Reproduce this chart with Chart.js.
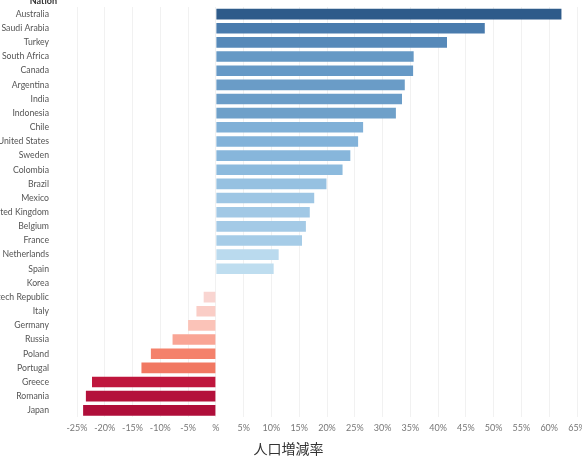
<!DOCTYPE html>
<html>
<head>
<meta charset="utf-8">
<script src="https://cdn.jsdelivr.net/npm/chart.js@4.4.0/dist/chart.umd.min.js"></script>
<style>
  body { margin: 0; background: #fff; }
  #wrap { width: 582px; height: 460px; position: relative; }
</style>
</head>
<body>
<div id="wrap"><canvas id="chart"></canvas></div>
<script>
// nations, top to bottom
const nations = ['Australia', 'Saudi Arabia', 'Turkey', 'South Africa', 'Canada', 'Argentina', 'India',
  'Indonesia', 'Chile', 'United States', 'Sweden', 'Colombia', 'Brazil', 'Mexico', 'United Kingdom',
  'Belgium', 'France', 'Netherlands', 'Spain', 'Korea', 'Czech Republic', 'Italy', 'Germany', 'Russia',
  'Poland', 'Portugal', 'Greece', 'Romania', 'Japan'];
// population change, %
const growth = [62.2, 48.4, 41.6, 35.6, 35.5, 34.0, 33.5, 32.4, 26.5, 25.6, 24.2, 22.8, 19.9, 17.7, 16.9,
  16.2, 15.5, 11.3, 10.4, 0, -2.2, -3.5, -5.0, -7.8, -11.7, -13.4, -22.3, -23.4, -23.9];
const axisTitle = '人口増減率';
const headerLabel = 'Nation';

// diverging colour ramp (value -> colour)
const blueStops = [[0, '#cfe6f4'], [10, '#c0def0'], [15, '#a8cde8'], [25, '#84b4da'], [33, '#6c9ec8'],
  [36, '#6598c5'], [42, '#5588b8'], [48, '#4a7cae'], [62, '#2e5b8a']];
const redStops = [[0, '#fbdcd9'], [-2, '#f9d6d3'], [-5, '#fbc3b8'], [-8, '#f9a392'], [-12, '#f47e68'],
  [-14, '#f07560'], [-20, '#c8203f'], [-22, '#c2173d'], [-24, '#ae0e3a']];

function hex(c) { return [1, 3, 5].map(i => parseInt(c.substr(i, 2), 16)); }
function ramp(stops, v) {
  const a = Math.abs(v);
  for (let i = 1; i < stops.length; i++) {
    const a0 = Math.abs(stops[i - 1][0]), a1 = Math.abs(stops[i][0]);
    if (a <= a1 || i === stops.length - 1) {
      const t = Math.max(0, Math.min(1, (a - a0) / (a1 - a0)));
      const c0 = hex(stops[i - 1][1]), c1 = hex(stops[i][1]);
      return 'rgb(' + c0.map((c, k) => Math.round(c + (c1[k] - c) * t)).join(',') + ')';
    }
  }
}
const barColors = growth.map(v => v >= 0 ? ramp(blueStops, v) : ramp(redStops, v));

const headerPlugin = {
  id: 'header',
  afterDraw(chart) {
    const ctx = chart.ctx;
    ctx.save();
    ctx.font = 'bold 9px Lato, sans-serif';
    ctx.fillStyle = '#333';
    ctx.textAlign = 'right';
    ctx.textBaseline = 'middle';
    ctx.fillText(headerLabel, 57, 1);
    ctx.restore();
  }
};

new Chart(document.getElementById('chart'), {
  type: 'bar',
  data: {
    labels: nations,
    datasets: [{
      data: growth,
      backgroundColor: barColors,
      barPercentage: 0.75,
      categoryPercentage: 1
    }]
  },
  options: {
    indexAxis: 'y',
    responsive: true,
    maintainAspectRatio: false,
    animation: false,
    layout: { padding: { top: 7, bottom: 2, right: 5 } },
    plugins: {
      legend: { display: false },
      tooltip: { enabled: false },
      title: {
        display: true,
        position: 'bottom',
        text: axisTitle,
        color: '#333',
        font: { family: '"Noto Sans CJK JP", sans-serif', size: 14, weight: 'normal' },
        padding: { top: 2, bottom: 1 }
      }
    },
    scales: {
      x: {
        min: -27.7,
        max: 65,
        ticks: {
          stepSize: 5,
          includeBounds: false,
          maxRotation: 0,
          autoSkip: false,
          color: '#777',
          font: { family: 'Lato, sans-serif', size: 9 },
          padding: 5,
          callback: v => v === 0 ? '%' : v + '%'
        },
        grid: { color: '#f1f1f1', drawTicks: false },
        border: { display: false },
        afterFit: s => { s.paddingRight = 0; s.paddingLeft = 0; }
      },
      y: {
        ticks: {
          color: '#555',
          font: { family: 'Lato, sans-serif', size: 8.7 },
          padding: 5,
          autoSkip: false
        },
        grid: { display: false },
        border: { display: false },
        afterFit: s => { s.width = 62; s.paddingTop = 0; s.paddingBottom = 0; }
      }
    }
  },
  plugins: [headerPlugin]
});
</script>
</body>
</html>
